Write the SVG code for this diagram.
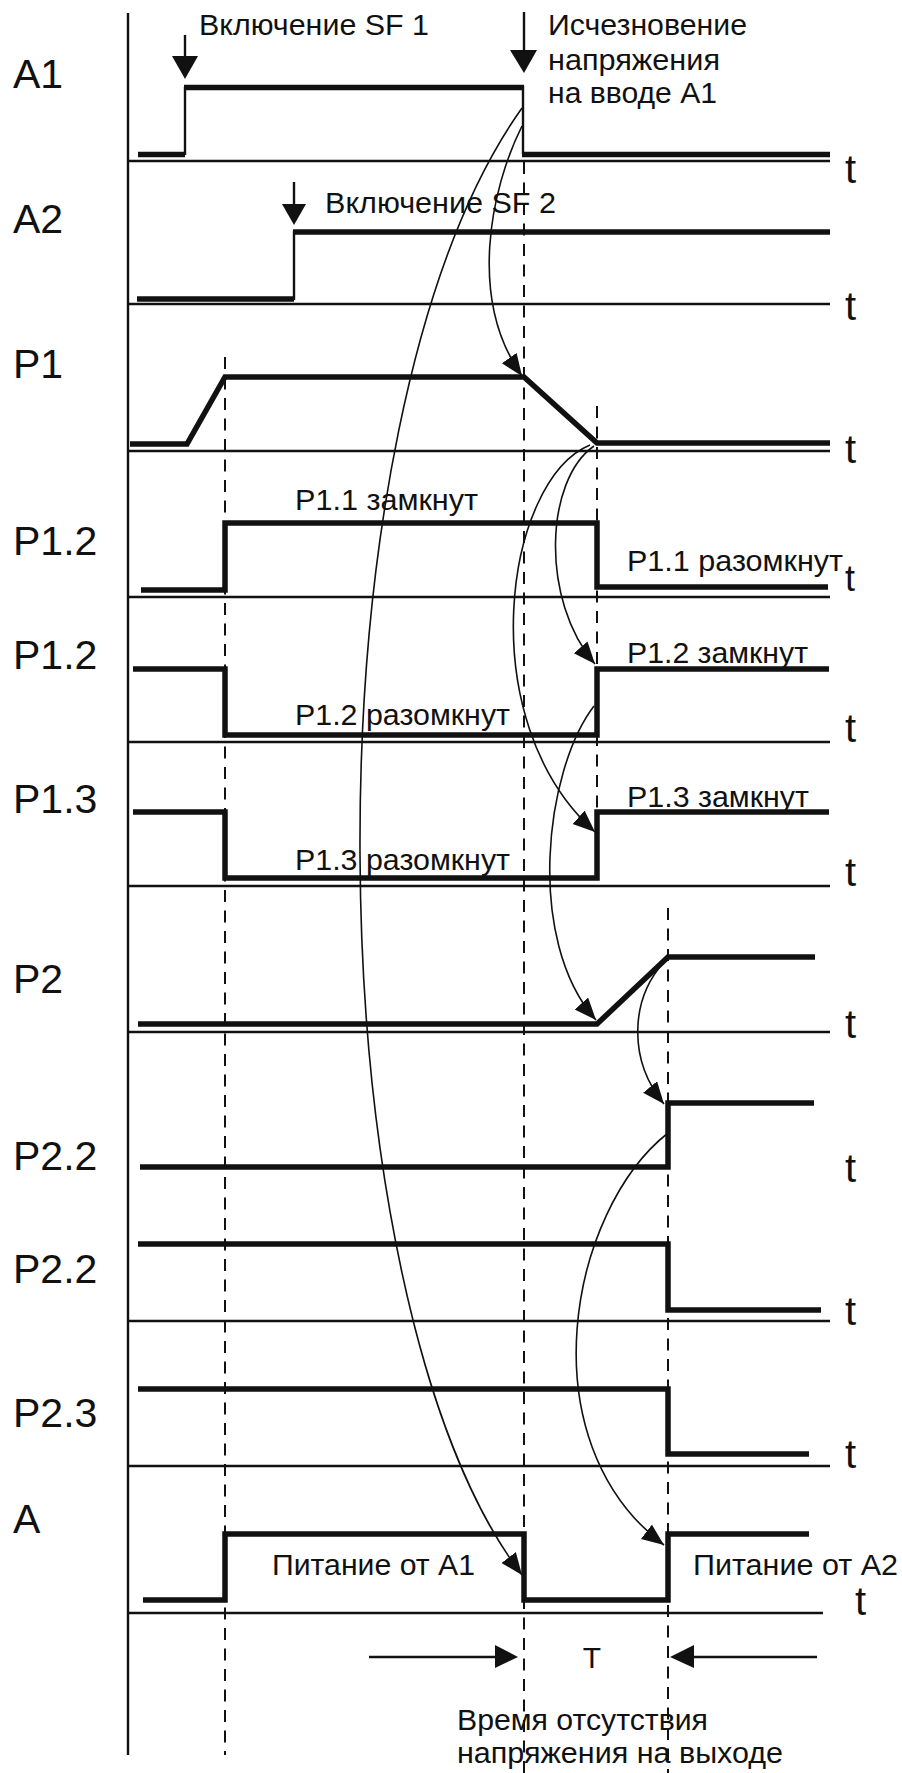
<svg xmlns="http://www.w3.org/2000/svg" width="902" height="1773" viewBox="0 0 902 1773">
<style>
.sig{fill:none;stroke:#111;stroke-width:5.5;stroke-linejoin:miter;stroke-linecap:butt}
.thin{fill:none;stroke:#111;stroke-width:2.4}
.ax{fill:none;stroke:#111;stroke-width:2.4}
.dash{fill:none;stroke:#111;stroke-width:2;stroke-dasharray:12 8.5}
.cur{fill:none;stroke:#111;stroke-width:1.6;marker-end:url(#ah)}
.lbl{font-family:"Liberation Sans",Arial,sans-serif;font-size:41px;fill:#111}
.tt{font-family:"Liberation Sans",Arial,sans-serif;font-size:40px;fill:#111}
.an{font-family:"Liberation Sans",Arial,sans-serif;font-size:30px;fill:#111}
.tri{fill:#111}
</style>
<defs>
<marker id="ah" markerUnits="userSpaceOnUse" markerWidth="24" markerHeight="20" refX="22" refY="9" orient="auto">
<path d="M0,0 L22,9 L0,18 z" fill="#111"/>
</marker>
</defs>
<rect width="902" height="1773" fill="#fff"/>

<g id="axes">
<line class="ax" x1="128" y1="13" x2="128" y2="1755"/>
<line class="ax" x1="128" y1="161" x2="830" y2="161"/>
<line class="ax" x1="128" y1="304" x2="830" y2="304"/>
<line class="ax" x1="128" y1="451" x2="830" y2="451"/>
<line class="ax" x1="128" y1="597" x2="830" y2="597"/>
<line class="ax" x1="128" y1="742" x2="830" y2="742"/>
<line class="ax" x1="128" y1="886" x2="830" y2="886"/>
<line class="ax" x1="128" y1="1032" x2="830" y2="1032"/>
<line class="ax" x1="128" y1="1321" x2="830" y2="1321"/>
<line class="ax" x1="128" y1="1466" x2="830" y2="1466"/>
<line class="ax" x1="128" y1="1613" x2="823" y2="1613"/>
</g>

<g id="dashed">
<line class="dash" x1="225" y1="357" x2="225" y2="1755"/>
<line class="dash" x1="524" y1="162" x2="524" y2="1773"/>
<line class="dash" x1="597" y1="406" x2="597" y2="880"/>
<line class="dash" x1="668" y1="908" x2="668" y2="1773"/>
</g>

<g id="row-A1">
<text class="lbl" x="13" y="88">A1</text>
<polyline class="sig" points="138,154.5 185,154.5"/>
<line class="thin" x1="185" y1="155" x2="185" y2="87"/>
<polyline class="sig" points="184,87.5 524,87.5"/>
<line class="thin" x1="523" y1="86" x2="523" y2="154"/>
<polyline class="sig" points="522,154.5 830,154.5"/>
<text class="tt" x="845" y="183">t</text>
<line class="thin" x1="185" y1="35" x2="185" y2="58"/>
<path class="tri" d="M172,56 L198,56 L185,79 z"/>
<text class="an" x="199" y="35" textLength="230" lengthAdjust="spacingAndGlyphs">Включение SF 1</text>
<line class="thin" x1="524" y1="12" x2="524" y2="52"/>
<path class="tri" d="M510,50 L537,50 L524,73 z"/>
<text class="an" x="548" y="35" textLength="199" lengthAdjust="spacingAndGlyphs">Исчезновение</text>
<text class="an" x="548" y="70" textLength="172" lengthAdjust="spacingAndGlyphs">напряжения</text>
<text class="an" x="548" y="103" textLength="169" lengthAdjust="spacingAndGlyphs">на вводе А1</text>
</g>

<g id="row-A2">
<text class="lbl" x="13" y="233">A2</text>
<polyline class="sig" points="137,299 294,299"/>
<line class="thin" x1="294" y1="300" x2="294" y2="231"/>
<polyline class="sig" points="293,232 830,232"/>
<text class="tt" x="845" y="320">t</text>
<line class="thin" x1="294" y1="182" x2="294" y2="206"/>
<path class="tri" d="M282,204 L306,204 L294,225 z"/>
<text class="an" x="325" y="213" textLength="231" lengthAdjust="spacingAndGlyphs">Включение SF 2</text>
</g>

<g id="row-P1">
<text class="lbl" x="13" y="378">P1</text>
<polyline class="sig" points="130,444 187,444 225,377 524,377 597,443 830,443"/>
<text class="tt" x="845" y="463">t</text>
</g>

<g id="row-P1.1">
<text class="lbl" x="13" y="555">P1.2</text>
<polyline class="sig" points="141,590 225,590 225,523 597,523 597,587 828,587"/>
<text class="an" x="295" y="510" textLength="183" lengthAdjust="spacingAndGlyphs">P1.1 замкнут</text>
<text class="an" x="627" y="571" textLength="216" lengthAdjust="spacingAndGlyphs">P1.1 разомкнут</text>
<text class="tt" x="845" y="591" style="font-size:36px">t</text>
</g>

<g id="row-P1.2">
<text class="lbl" x="13" y="669">P1.2</text>
<polyline class="sig" points="133,669 225,669 225,735 597,735 597,669 829,669"/>
<text class="an" x="627" y="663" textLength="181" lengthAdjust="spacingAndGlyphs">P1.2 замкнут</text>
<text class="an" x="295" y="725" textLength="215" lengthAdjust="spacingAndGlyphs">P1.2 разомкнут</text>
<text class="tt" x="845" y="742">t</text>
</g>

<g id="row-P1.3">
<text class="lbl" x="13" y="813">P1.3</text>
<polyline class="sig" points="133,812 225,812 225,878 597,878 597,812 829,812"/>
<text class="an" x="627" y="807" textLength="182" lengthAdjust="spacingAndGlyphs">P1.3 замкнут</text>
<text class="an" x="295" y="870" textLength="215" lengthAdjust="spacingAndGlyphs">P1.3 разомкнут</text>
<text class="tt" x="845" y="886">t</text>
</g>

<g id="row-P2">
<text class="lbl" x="13" y="993">P2</text>
<polyline class="sig" points="138,1024 597,1024 668,957 815,957"/>
<text class="tt" x="845" y="1038">t</text>
</g>

<g id="row-P2.2a">
<text class="lbl" x="13" y="1170">P2.2</text>
<polyline class="sig" points="140,1167 668,1167 668,1103 814,1103"/>
<text class="tt" x="845" y="1182">t</text>
</g>

<g id="row-P2.2b">
<text class="lbl" x="13" y="1283">P2.2</text>
<polyline class="sig" points="138,1244 668,1244 668,1310 821,1310"/>
<text class="tt" x="845" y="1325">t</text>
</g>

<g id="row-P2.3">
<text class="lbl" x="13" y="1427">P2.3</text>
<polyline class="sig" points="138,1389 668,1389 668,1454 809,1454"/>
<text class="tt" x="845" y="1468">t</text>
</g>

<g id="row-A">
<text class="lbl" x="13" y="1533">A</text>
<polyline class="sig" points="143,1600 225,1600 225,1534 524,1534 524,1600 668,1600 668,1534 809,1534"/>
<text class="an" x="272" y="1575" textLength="203" lengthAdjust="spacingAndGlyphs">Питание от А1</text>
<text class="an" x="693" y="1575" textLength="205" lengthAdjust="spacingAndGlyphs">Питание от А2</text>
<text class="tt" x="855" y="1615">t</text>
</g>

<g id="interval-T">
<line class="thin" x1="369" y1="1657" x2="500" y2="1657"/>
<path class="tri" d="M495,1645 L495,1668 L518,1657 z"/>
<line class="thin" x1="690" y1="1657" x2="817" y2="1657"/>
<path class="tri" d="M694,1645 L694,1668 L670,1657 z"/>
<text class="an" x="592" y="1668" text-anchor="middle">T</text>
<text class="an" x="457" y="1730" textLength="251" lengthAdjust="spacingAndGlyphs">Время отсутствия</text>
<text class="an" x="457" y="1763" textLength="326" lengthAdjust="spacingAndGlyphs">напряжения на выходе</text>
</g>

<g id="connectors">
<path class="cur" d="M522,108 C300,420 312,1300 522,1575"/>
<path class="cur" d="M522,126 C490,190 468,300 522,376"/>
<path class="cur" d="M594,446 C545,480 540,600 595,664"/>
<path class="cur" d="M590,445 C505,480 470,720 595,832"/>
<path class="cur" d="M594,706 C545,770 525,940 596,1020"/>
<path class="cur" d="M664,962 C630,1000 628,1060 664,1104"/>
<path class="cur" d="M668,1133 C570,1210 525,1440 664,1545"/>
</g>
</svg>
